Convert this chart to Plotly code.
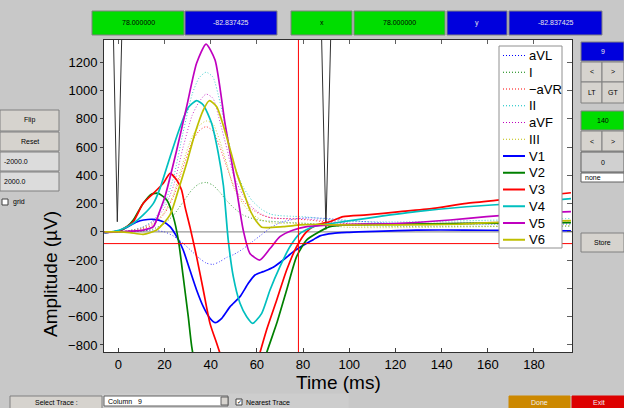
import plotly.graph_objects as go

# ---------------- data ----------------
cursor_x = 78.0
cursor_y = -82.837425

x_range = [-6.19, 196.46]
y_range = [-849.7, 1357.6]
x_ticks = [0, 20, 40, 60, 80, 100, 120, 140, 160, 180]
y_ticks = [-800, -600, -400, -200, 0, 200, 400, 600, 800, 1000, 1200]

# limb leads (dotted), common time grid (ms)
t_limb = [-6, 0, 5, 10, 15, 20, 24, 28, 32, 35, 38, 41, 44, 47, 50, 54, 58, 62, 66, 70, 76, 82, 90, 100, 120, 140, 160, 180, 196]
aVL = [0, 0, 5, 8, 12, 0, -30, -80, -140, -185, -220, -230, -210, -180, -160, -120, -70, -20, 30, 65, 90, 100, 95, 80, 60, 55, 55, 55, 55]
lead_I = [0, 0, 0, 5, 20, 60, 120, 210, 300, 340, 350, 330, 280, 220, 170, 120, 95, 80, 75, 70, 65, 60, 50, 45, 40, 40, 40, 40, 40]
neg_aVR = [0, 0, 5, 18, 50, 130, 255, 455, 638, 715, 745, 713, 600, 460, 325, 220, 158, 120, 100, 95, 90, 85, 70, 58, 55, 58, 62, 66, 70]
lead_II = [0, 0, 10, 30, 80, 200, 390, 700, 975, 1090, 1130, 1095, 920, 700, 480, 320, 220, 160, 125, 115, 110, 105, 90, 75, 70, 75, 82, 88, 95]
aVF = [0, 0, 10, 28, 70, 170, 330, 595, 825, 920, 975, 945, 780, 590, 395, 260, 173, 125, 100, 95, 95, 90, 80, 62, 58, 62, 68, 74, 80]
lead_III = [0, 0, 10, 25, 60, 140, 270, 490, 675, 750, 785, 765, 640, 480, 310, 200, 125, 85, 65, 60, 60, 55, 45, 32, 30, 33, 37, 41, 45]

# precordial leads (solid)
t_V1 = [-6, 0, 4, 8, 11, 15, 19.5, 22.4, 25.3, 28.1, 31, 33.9, 36.8, 39.7, 41.9, 44.8, 48.4, 52.7, 56.3, 59.2, 62.8, 67.1, 71.4, 75.8, 80.1, 84.4, 87.3, 93, 100, 107.5, 129, 150, 170, 196]
V1 = [-5, 5, 35, 70, 84, 89, 72, 37, -34, -128, -270, -411, -529, -611, -642, -611, -529, -458, -364, -305, -281, -250, -199, -140, -95, -55, -28, -10, -3, 2, 13, 13, 10, 8]
t_V2 = [-6, 0, 4, 6.5, 8.5, 10.8, 14.5, 17.3, 21, 23.8, 26, 28.1, 30.3, 31.8, 34, 40, 50, 58, 64.2, 68.6, 72.9, 77.2, 81.6, 85.9, 91.6, 95, 100, 120, 150, 196]
V2 = [-3, 5, 40, 84, 140, 202, 268, 273, 226, 108, -57, -317, -600, -812, -1000, -1300, -1400, -1200, -857, -647, -411, -175, -57, -10, 37, 45, 50, 55, 60, 65]
t_V3 = [-6, 0, 4, 6.5, 10.8, 15.2, 19.5, 22.4, 25.3, 27.4, 29, 31, 33.9, 36.8, 39.7, 42.6, 44, 48, 54, 58, 61.3, 64.2, 68.6, 72.9, 77.2, 81.6, 85.9, 91.6, 97.4, 107.5, 122, 136.4, 150.8, 165.2, 180, 196]
V3 = [-3, 5, 40, 72, 202, 273, 344, 414, 367, 296, 170, 37, -175, -411, -647, -788, -857, -1050, -1150, -1050, -857, -694, -482, -270, -105, 2, 49, 72, 108, 120, 143, 167, 202, 226, 250, 277]
t_V4 = [-6, 0.7, 6.5, 10.8, 15.2, 18.1, 22.4, 26.7, 30.3, 33.9, 36.8, 40.4, 43.3, 45.5, 47.6, 49.8, 52.7, 55.6, 58.2, 62.1, 65.7, 70, 74.3, 78.7, 84.4, 93, 107.5, 129, 150.8, 172.5, 196]
V4 = [-8, 13, 61, 120, 202, 310, 530, 740, 880, 928, 898, 768, 556, 330, -57, -317, -505, -600, -647, -576, -411, -246, -105, -10, 37, 61, 96, 143, 178, 202, 236]
t_V5 = [-6, 0, 5, 10.8, 15.2, 18, 20.2, 25.3, 29.6, 33.9, 38, 41.9, 46.2, 49.8, 51.3, 54.1, 57, 61.3, 65.8, 70, 75.8, 81.6, 93, 122, 143.6, 159.5, 179.5, 196]
V5 = [-3, 0, 5, 13, 37, 150, 249, 579, 886, 1193, 1329, 1216, 768, 430, 290, 13, -152, -199, -116, -34, 13, 37, 49, 61, 84, 108, 132, 143]
t_V6 = [-6, 0, 5, 10.8, 16.6, 22.4, 26, 29.6, 33.2, 36.8, 39.4, 42.6, 46.9, 51.3, 54.5, 57, 59.9, 62.1, 71.4, 78.7, 87.3, 93, 122, 146.5, 165, 196]
V6 = [0, 0, -5, -17, 13, 120, 296, 485, 697, 862, 928, 886, 674, 414, 270, 155, 72, 33, 37, 49, 54, 50, 49, 54, 68, 80]

# onset / offset marker traces
t_onset = [-2.9, -0.43, 2.41]
v_onset = [2000, 72, 2000]
t_offset = [87.17, 89.9, 92.93]
v_offset = [2000, 18, 2000]

series_names = ["aVL", "I", "\u2212aVR", "II", "aVF", "III", "V1", "V2", "V3", "V4", "V5", "V6"]
series_colors = ["#0000ff", "#008000", "#ff0000", "#00bfbf", "#bf00bf", "#bfbf00",
                 "#0000ff", "#008000", "#ff0000", "#00bfbf", "#bf00bf", "#bfbf00"]
series_x = [t_limb] * 6 + [t_V1, t_V2, t_V3, t_V4, t_V5, t_V6]
series_y = [aVL, lead_I, neg_aVR, lead_II, aVF, lead_III, V1, V2, V3, V4, V5, V6]
series_dotted = [True] * 6 + [False] * 6

# ---------------- layout helpers ----------------
W, H = 624, 408
L, R, T, B = 104, 52, 40, 56
PW, PH = W - L - R, H - T - B
FONT = "Liberation Sans, Arial, sans-serif"
DOT = "1px,2px"


def fx(px):
    return (px - L) / PW


def fy(py):
    return 1 - (py - T) / PH


shapes = []
annotations = []


def box(x0, y0, x1, y1, fill, line="#808080", text=None, tcolor="#000000",
        size=7, align="center"):
    shapes.append(dict(type="rect", xref="paper", yref="paper",
                       x0=fx(x0), x1=fx(x1), y0=fy(y1), y1=fy(y0),
                       fillcolor=fill, line=dict(color=line, width=1), layer="above"))
    if text is not None:
        if align == "center":
            ax, anc = (x0 + x1) / 2, "center"
        else:
            ax, anc = x0 + 2, "left"
        annotations.append(dict(x=fx(ax), y=fy((y0 + y1) / 2), xref="paper", yref="paper",
                                text=text, showarrow=False, xanchor=anc, yanchor="middle",
                                font=dict(family=FONT, size=size, color=tcolor)))


def label(px, py, text, size=7, color="#000000", anchor="left", angle=0):
    annotations.append(dict(x=fx(px), y=fy(py), xref="paper", yref="paper", text=text,
                            showarrow=False, xanchor=anchor, yanchor="middle",
                            textangle=angle, font=dict(family=FONT, size=size, color=color)))


BTN = "#d6d3ce"
GREEN = "#00dd00"
BLUE = "#0000dd"
LIGHT = "#e8e8e8"

# top readouts
box(92, 11, 184, 35, GREEN, text=f"{cursor_x:.6f}")
box(185, 11, 277, 35, BLUE, text=f"{cursor_y:.6f}", tcolor=LIGHT)
box(291, 11, 352, 35, GREEN, text="x")
box(354, 11, 445, 35, GREEN, text=f"{cursor_x:.6f}")
box(447, 11, 507, 35, BLUE, text="y", tcolor=LIGHT)
box(509, 11, 602, 35, BLUE, text=f"{cursor_y:.6f}", tcolor=LIGHT)

# left panel
box(0, 110, 59, 131, BTN, text="Flip")
box(0, 132, 59, 151, BTN, text="Reset")
box(0, 152, 59, 171, "#dcdcdc", text="-2000.0", align="left")
box(0, 172, 59, 191, "#dcdcdc", text="2000.0", align="left")
box(2, 199, 8, 205, "#ffffff", line="#404040")
label(11, 202, "grid")

# right panel
box(581, 42, 624, 61, BLUE, text="9", tcolor=LIGHT)
box(581, 62, 602, 82, BTN, text="<")
box(602, 62, 624, 82, BTN, text=">")
box(581, 82, 602, 103, BTN, text="LT")
box(602, 82, 624, 103, BTN, text="GT")
box(581, 111, 624, 130, GREEN, text="140")
box(581, 131, 602, 151, BTN, text="<")
box(602, 131, 624, 151, BTN, text=">")
box(581, 152, 624, 172, "#d0d0d0", line="#606060", text="0")
box(581, 173, 624, 182, "#ffffff", line="#606060", text="none", align="left")
box(581, 233, 624, 252, BTN, text="Store")

# bottom panel
box(102, 394, 348, 409, "#cdcdcd", line="#cdcdcd")
box(10, 396, 102, 409, BTN, text="Select Trace :")
box(104, 396, 228, 406, "#ffffff", line="#606060", text="Column   9", align="left")
box(221, 397, 228, 405, BTN, line="#606060")
box(236, 399, 242, 405, "#ffffff", line="#404040", text="\u2713", size=6)
label(244, 402, "Nearest Trace")
box(509, 396, 570, 409, "#cc8800", line="#cc8800", text="Done", tcolor="#f0f0f0")
box(572, 396, 625, 409, "#dd0000", line="#dd0000", text="Exit", tcolor="#f0f0f0")

# axis titles
label(338, 382, "Time (ms)", size=19, anchor="center")
label(50, 274, "Amplitude (\u00b5V)", size=19, anchor="center", angle=-90)

# reference lines
shapes.append(dict(type="line", xref="paper", yref="y", x0=0, x1=1, y0=0, y1=0,
                   line=dict(color="#808080", width=1), layer="below"))
shapes.append(dict(type="line", xref="x", yref="paper", x0=cursor_x, x1=cursor_x, y0=0, y1=1,
                   line=dict(color="#ff0000", width=1), layer="above"))
shapes.append(dict(type="line", xref="paper", yref="y", x0=0, x1=1, y0=cursor_y, y1=cursor_y,
                   line=dict(color="#ff0000", width=1), layer="above"))

# custom legend
lg_x0, lg_x1, lg_y0, lg_y1 = 499, 562, 46, 248
shapes.append(dict(type="rect", xref="paper", yref="paper", x0=fx(lg_x0), x1=fx(lg_x1),
                   y0=fy(lg_y1), y1=fy(lg_y0), fillcolor="#ffffff",
                   line=dict(color="#909090", width=1), layer="above"))
for i, (name, col, dotted) in enumerate(zip(series_names, series_colors, series_dotted)):
    py = 55.5 + i * 16.75
    shapes.append(dict(type="line", xref="paper", yref="paper", x0=fx(503), x1=fx(525),
                       y0=fy(py), y1=fy(py), layer="above",
                       line=dict(color=col, width=1 if dotted else 2,
                                 dash=DOT if dotted else "solid")))
    label(526.5, py, name, size=13)

# ---------------- figure ----------------
fig = go.Figure()

for tx, vy in ((t_onset, v_onset), (t_offset, v_offset)):
    fig.add_trace(go.Scatter(x=tx, y=vy, mode="lines", showlegend=False,
                             line=dict(color="#303030", width=1), hoverinfo="skip"))

for name, col, dotted, xs, ys in zip(series_names, series_colors, series_dotted, series_x, series_y):
    fig.add_trace(go.Scatter(
        x=xs, y=ys, mode="lines", name=name, showlegend=False, opacity=0.75 if dotted else 1,
        line=dict(color=col, width=1 if dotted else 1.7, dash=DOT if dotted else "solid",
                  shape="spline", smoothing=0.6)))

# empty trace to realise the mirrored tick axes
fig.add_trace(go.Scatter(x=[], y=[], xaxis="x2", yaxis="y2", showlegend=False))

axis_common = dict(showgrid=False, zeroline=False, fixedrange=True)
fig.update_layout(
    width=W, height=H,
    margin=dict(l=L, r=R, t=T, b=B, pad=0),
    paper_bgcolor="#c8c8c8", plot_bgcolor="#ffffff",
    font=dict(family=FONT, size=13, color="#000000"),
    showlegend=False,
    xaxis=dict(range=x_range, tickvals=x_ticks, ticks="inside", ticklen=4, tickcolor="#404040",
               showline=True, linecolor="#303030", linewidth=1, mirror=True,
               tickfont=dict(size=13, family=FONT), **axis_common),
    yaxis=dict(range=y_range, tickvals=y_ticks, ticks="outside", ticklen=3, tickcolor="#404040",
               showline=True, linecolor="#303030", linewidth=1, mirror=True,
               tickfont=dict(size=13, family=FONT), **axis_common),
    xaxis2=dict(range=x_range, tickvals=x_ticks, ticks="inside", ticklen=4, tickcolor="#606060",
                overlaying="x", side="top", anchor="y2", showticklabels=False,
                showline=False, **axis_common),
    yaxis2=dict(range=y_range, tickvals=y_ticks, ticks="inside", ticklen=5, tickcolor="#606060",
                overlaying="y", side="right", anchor="x2", showticklabels=False,
                showline=False, **axis_common),
    shapes=shapes,
    annotations=annotations,
)

fig.write_html("out.html", config={"displayModeBar": False},
               post_script="document.body.style.margin='0px';document.body.style.overflow='hidden';")
